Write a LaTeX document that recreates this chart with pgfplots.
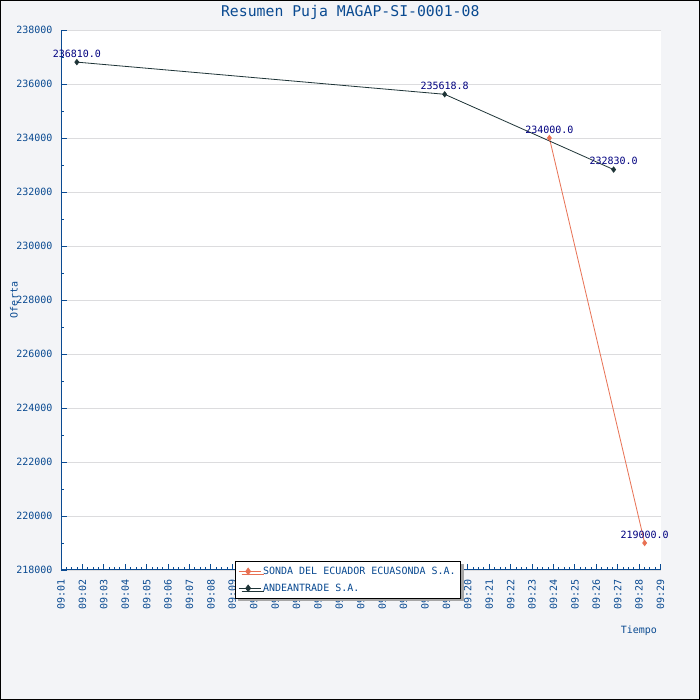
\documentclass[border=0pt]{standalone}
\usepackage{pgfplots}
\pgfplotsset{compat=1.18}
\usepackage{fontspec}
\setmainfont{DejaVu Sans Mono}
\usetikzlibrary{shadows}
\definecolor{bggray}{RGB}{243,244,247}
\definecolor{axblue}{RGB}{10,74,145}
\definecolor{navy}{RGB}{0,0,128}
\definecolor{sonda}{RGB}{232,112,82}
\definecolor{andean}{RGB}{30,52,55}
\definecolor{gridgray}{RGB}{220,220,222}
\begin{document}
\begin{tikzpicture}
\useasboundingbox (0,0) rectangle (700pt,700pt);
\draw[black, line width=1pt, fill=bggray] (0.5pt,0.5pt) rectangle (699.5pt,699.5pt);
\begin{axis}[
  at={(61pt,130pt)}, anchor=south west,
  scale only axis, width=599.5pt, height=540pt,
  xmin=1, xmax=29, ymin=218000, ymax=238000,
  clip=false,
  axis background/.style={fill=white},
  axis x line*=bottom, axis y line*=left,
  axis line style={axblue, line width=1pt},
  every axis x line/.append style={-}, every axis y line/.append style={-},
  tick align=inside,
  major tick length=5.5pt, minor tick length=3pt,
  every tick/.style={axblue, line width=0.8pt},
  xtick={1,...,29},
  xticklabels={09:01,09:02,09:03,09:04,09:05,09:06,09:07,09:08,09:09,09:10,09:11,09:12,09:13,09:14,09:15,09:16,09:17,09:18,09:19,09:20,09:21,09:22,09:23,09:24,09:25,09:26,09:27,09:28,09:29},
  minor x tick num=3,
  ytick={218000,220000,222000,224000,226000,228000,230000,232000,234000,236000,238000},
  yticklabels={218000,220000,222000,224000,226000,228000,230000,232000,234000,236000,238000},
  minor y tick num=1,
  scaled y ticks=false,
  ymajorgrids, xmajorgrids=false,
  major grid style={gridgray, line width=0.8pt},
  tick label style={font=\fontsize{10}{12}\selectfont, text=axblue},
  yticklabel style={anchor=east, xshift=-5pt},
  xticklabel style={yshift=-6pt, rotate=90, anchor=east},
  xlabel={Tiempo},
  xlabel style={at={(axis description cs:1,-0.113)}, anchor=east, font=\fontsize{10}{12}\selectfont, text=axblue},
  ylabel={Oferta},
  ylabel style={at={(axis description cs:-0.0785,0.5)}, anchor=center, font=\fontsize{10}{12}\selectfont, text=axblue},
  legend style={at={(axis description cs:0.29,0.0167)}, anchor=north west, draw=black, line width=0.8pt, fill=white,
    font=\fontsize{10}{12}\selectfont, text=axblue, inner xsep=3pt, inner ysep=3.5pt, row sep=4pt,
    drop shadow={shadow xshift=3pt, shadow yshift=-3pt, fill=gray!70, opacity=1}},
  legend cell align=left,
  legend image code/.code={\path (-1pt,0pt) -- (21pt,0pt); \draw[#1, line width=0.8pt] (0pt,0pt) -- (17pt,0pt); \draw[#1, mark repeat=1, mark phase=1, mark size=3.2pt] plot coordinates {(8.5pt,0pt)};},
  nodes near coords, point meta=explicit symbolic,
  every node near coord/.append style={font=\fontsize{10}{12}\selectfont, text=navy, anchor=south, yshift=1pt},
]
\addplot[sonda, line width=0.8pt, mark=diamond*, mark size=2.6pt, mark options={fill=sonda, draw=sonda}]
  coordinates {(23.81,234000) [234000.0] (28.26,219000) [219000.0]};
\addlegendentry{SONDA DEL ECUADOR ECUASONDA S.A.}
\addplot[andean, line width=0.8pt, mark=diamond*, mark size=2.6pt, mark options={fill=andean, draw=andean}]
  coordinates {(1.74,236810) [236810.0] (18.92,235618.8) [235618.8] (26.81,232830) [232830.0]};
\addlegendentry{ANDEANTRADE S.A.}
\node[anchor=center, font=\fontsize{14.8}{16}\selectfont, text=axblue] at (axis description cs:0.4825,1.0333) {Resumen Puja MAGAP-SI-0001-08};
\end{axis}
\end{tikzpicture}
\end{document}
